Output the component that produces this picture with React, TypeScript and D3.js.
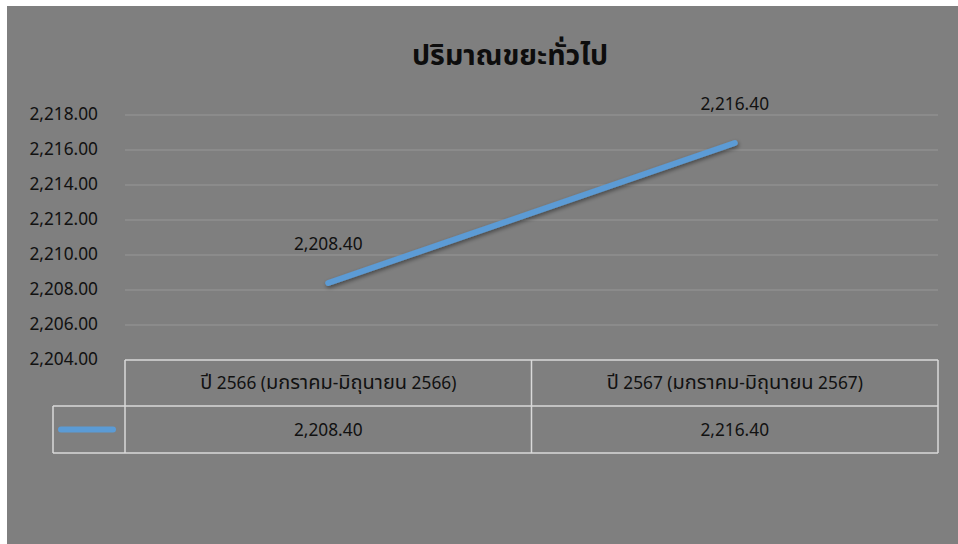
import React from "react";
import * as d3 from "d3";

const title = "ปริมาณขยะทั่วไป";
const categories = ["ปี 2566 (มกราคม-มิถุนายน 2566)", "ปี 2567 (มกราคม-มิถุนายน 2567)"];
const values = [2208.4, 2216.4];
const yTicks = [2204, 2206, 2208, 2210, 2212, 2214, 2216, 2218];

const W = 958;
const H = 544;
const FONT = "'Noto Sans', 'Noto Sans Thai', 'DejaVu Sans', sans-serif";

// split text into Thai / non-Thai runs so Thai glyphs can be sized to match
function runs(s: string): { t: string; thai: boolean }[] {
  const out: { t: string; thai: boolean }[] = [];
  for (const ch of s) {
    const thai = /[\u0E00-\u0E7F]/.test(ch);
    const last = out[out.length - 1];
    if (last && last.thai === thai) last.t += ch;
    else out.push({ t: ch, thai });
  }
  return out;
}

function Mixed({ s, base, thaiSize }: { s: string; base: number; thaiSize: number }) {
  return (
    <>
      {runs(s).map((r, i) => (
        <tspan key={i} fontSize={r.thai ? thaiSize : base}>
          {r.t}
        </tspan>
      ))}
    </>
  );
}

export default function App() {
  const plotL = 125;
  const plotR = 938;
  const plotT = 115;
  const plotB = 360;
  const y = d3.scaleLinear().domain([2204, 2218]).range([plotB, plotT]);
  const x = d3.scaleBand().domain(categories).range([plotL, plotR]);
  const fmt = d3.format(",.2f");
  const line = d3
    .line<number>()
    .x((_, i) => (x(categories[i]) as number) + x.bandwidth() / 2)
    .y((d) => y(d));
  const rowMid = 406;
  const tableBottom = 453;
  const legendL = 53;

  return (
    <svg
      width={W}
      height={H}
      style={{ position: "absolute", left: 0, top: 0, background: "#fff" }}
    >
      <defs>
        <filter id="sh" x="-10%" y="-50%" width="120%" height="200%">
          <feDropShadow dx="1" dy="2" stdDeviation="2" floodColor="#000" floodOpacity="0.45" />
        </filter>
      </defs>
      <rect x={7} y={6} width={W - 7} height={H - 6} fill="#7f7f7f" />
      <text
        x={510}
        y={65}
        textAnchor="middle"
        fontFamily={FONT}
        fontWeight="bold"
        fontSize={28.5}
        fill="#0d0d0d"
      >
        {title}
      </text>
      {yTicks.map((t) => (
        <g key={t}>
          {t !== 2204 && (
            <line x1={plotL} x2={plotR} y1={y(t)} y2={y(t)} stroke="#8f8f8f" strokeWidth={1.5} />
          )}
          <text
            x={98}
            y={y(t)}
            dy="0.3em"
            textAnchor="end"
            fontFamily={FONT}
            fontSize={17.3}
            fill="#111"
          >
            {fmt(t)}
          </text>
        </g>
      ))}
      <path
        d={line(values) || ""}
        fill="none"
        stroke="#5b9bd5"
        strokeWidth={6}
        strokeLinecap="round"
        filter="url(#sh)"
      />
      {values.map((v, i) => (
        <text
          key={i}
          x={(x(categories[i]) as number) + x.bandwidth() / 2}
          y={y(v) - 33}
          textAnchor="middle"
          fontFamily={FONT}
          fontSize={17.3}
          fill="#111"
        >
          {fmt(v)}
        </text>
      ))}
      {/* data table */}
      <g stroke="#d9d9d9" strokeWidth={1.5} fill="none">
        <line x1={plotL} x2={plotR} y1={plotB} y2={plotB} />
        <line x1={legendL} x2={plotR} y1={rowMid} y2={rowMid} />
        <line x1={legendL} x2={plotR} y1={tableBottom} y2={tableBottom} />
        <line x1={legendL} x2={legendL} y1={rowMid} y2={tableBottom} />
        <line x1={plotL} x2={plotL} y1={plotB} y2={tableBottom} />
        {categories.map((c) => (
          <line
            key={c}
            x1={(x(c) as number) + x.bandwidth()}
            x2={(x(c) as number) + x.bandwidth()}
            y1={plotB}
            y2={tableBottom}
          />
        ))}
      </g>
      {categories.map((c, i) => (
        <g key={c}>
          <text
            x={(x(c) as number) + x.bandwidth() / 2}
            y={(plotB + rowMid) / 2}
            dy="0.35em"
            textAnchor="middle"
            fontFamily={FONT}
            fontSize={17.3}
            fill="#111"
          >
            <Mixed s={c} base={17.3} thaiSize={20} />
          </text>
          <text
            x={(x(c) as number) + x.bandwidth() / 2}
            y={(rowMid + tableBottom) / 2}
            dy="0.35em"
            textAnchor="middle"
            fontFamily={FONT}
            fontSize={17.3}
            fill="#111"
          >
            {fmt(values[i])}
          </text>
        </g>
      ))}
      <line
        x1={61}
        x2={113}
        y1={(rowMid + tableBottom) / 2}
        y2={(rowMid + tableBottom) / 2}
        stroke="#5b9bd5"
        strokeWidth={6}
        strokeLinecap="round"
      />
    </svg>
  );
}
